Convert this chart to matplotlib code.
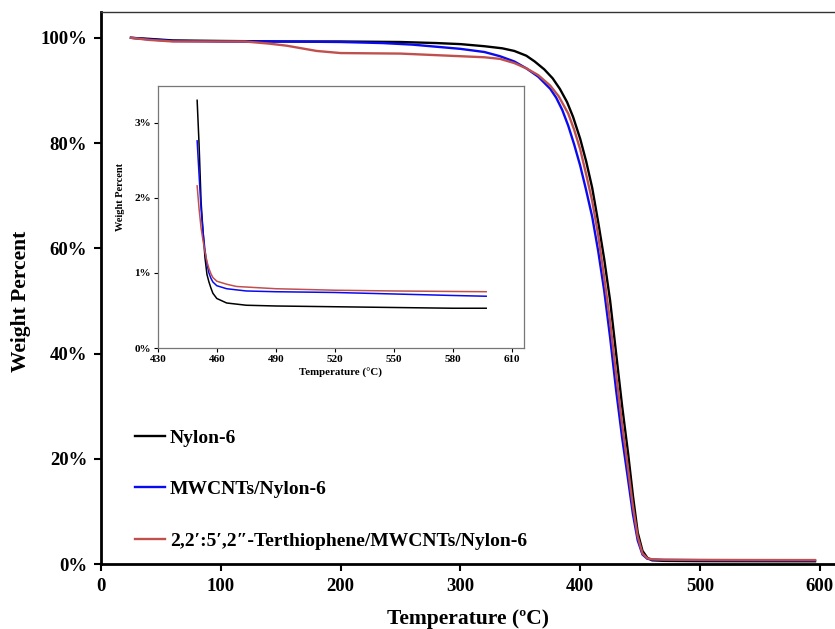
import numpy as np
import matplotlib
matplotlib.use('Agg')
import matplotlib.pyplot as plt
from matplotlib.ticker import FuncFormatter

plt.rcParams['font.family'] = ['Liberation Serif', 'DejaVu Serif']
plt.rcParams['font.weight'] = 'bold'

# TGA curves, main plot (temperature in C, weight in %)
t_nylon = [25, 40, 60, 100, 150, 200, 250, 280, 300, 320, 335, 345, 355, 362, 370, 377, 383, 389,
           394, 400, 405, 410, 415, 420, 425, 430, 435, 440, 444, 448, 452, 456, 460, 470, 500, 550, 596]
w_nylon = [100, 99.8, 99.5, 99.4, 99.3, 99.3, 99.2, 99.0, 98.8, 98.4, 98.0, 97.5, 96.6, 95.5, 94.0, 92.3, 90.3, 87.8,
           85.0, 80.8, 76.5, 71.5, 65.0, 58.0, 50.0, 40.0, 30.0, 21.0, 13.0, 6.0, 2.5, 1.2, 0.7, 0.6, 0.55, 0.53, 0.52]

t_mwcnt = [25, 40, 60, 100, 150, 200, 235, 260, 300, 320, 333, 345, 355, 365, 375, 380, 385, 390,
           395, 400, 405, 410, 415, 420, 425, 430, 435, 440, 444, 448, 452, 456, 460, 470, 500, 550, 596]
w_mwcnt = [100, 99.7, 99.4, 99.3, 99.3, 99.2, 99.0, 98.7, 97.9, 97.3, 96.5, 95.5, 94.2, 92.6, 90.3, 88.6, 86.3, 83.3,
           79.7, 75.7, 71.0, 66.0, 59.5, 52.0, 43.0, 33.0, 24.0, 16.0, 9.5, 4.5, 1.8, 1.0, 0.85, 0.78, 0.74, 0.72, 0.70]

t_terth = [25, 40, 60, 100, 120, 140, 155, 170, 180, 200, 250, 270, 300, 320, 333, 345, 355, 365, 375, 382,
           390, 395, 400, 405, 410, 415, 420, 425, 430, 435, 440, 444, 448, 452, 456, 460, 470, 500, 550, 596]
w_terth = [100, 99.6, 99.3, 99.3, 99.3, 98.9, 98.5, 97.9, 97.5, 97.1, 97.0, 96.8, 96.5, 96.3, 96.0, 95.2, 94.2, 92.9, 90.9, 88.9,
           85.6, 82.5, 78.8, 74.0, 69.0, 62.5, 54.5, 46.0, 36.0, 26.5, 18.0, 11.0, 5.2, 2.0, 1.1, 0.9, 0.82, 0.78, 0.76, 0.75]

# residue region, inset
it_nylon = [450, 451, 452, 453, 454, 455, 456, 457, 458, 460, 465, 475, 490, 520, 550, 580, 597]
iw_nylon = [3.30, 2.70, 1.95, 1.55, 1.20, 0.98, 0.88, 0.80, 0.73, 0.66, 0.60, 0.57, 0.56, 0.55, 0.54, 0.53, 0.53]
it_mwcnt = [450, 451, 452, 453, 454, 455, 456, 457, 458, 460, 465, 475, 490, 520, 550, 580, 597]
iw_mwcnt = [2.76, 2.30, 1.85, 1.55, 1.30, 1.12, 1.00, 0.93, 0.88, 0.83, 0.79, 0.76, 0.75, 0.74, 0.72, 0.70, 0.69]
it_terth = [450, 451, 452, 453, 454, 455, 456, 457, 458, 460, 465, 470, 490, 520, 550, 597]
iw_terth = [2.16, 1.85, 1.60, 1.43, 1.28, 1.15, 1.06, 0.99, 0.94, 0.89, 0.85, 0.82, 0.79, 0.77, 0.76, 0.75]

labels = ['Nylon-6', 'MWCNTs/Nylon-6', '2,2\u2032:5\u2032,2\u2033-Terthiophene/MWCNTs/Nylon-6']
colors = ['black', '#0A0AF0', '#C0504D']

fig = plt.figure(figsize=(8.35, 6.29), dpi=100)
ax = fig.add_axes([0.121, 0.1033, 0.879, 0.8776])

ax.plot(t_nylon, w_nylon, color=colors[0], lw=1.7, label=labels[0])
ax.plot(t_mwcnt, w_mwcnt, color=colors[1], lw=1.7, label=labels[1])
ax.plot(t_terth, w_terth, color=colors[2], lw=1.7, label=labels[2])

ax.set_xlim(0, 612.7)
ax.set_ylim(0, 104.9)
ax.set_xticks([0, 100, 200, 300, 400, 500, 600])
ax.set_yticks([0, 20, 40, 60, 80, 100])
ax.yaxis.set_major_formatter(FuncFormatter(lambda v, p: '%d%%' % v))
ax.tick_params(direction='out', length=5, width=1.5, labelsize=13.5, pad=5)
for s in ['left', 'bottom']:
    ax.spines[s].set_linewidth(2)
ax.spines['top'].set_linewidth(1)
ax.spines['top'].set_color('#333333')
ax.spines['right'].set_visible(False)
ax.set_xlabel('Temperature (\u00baC)', fontsize=15.5, fontweight='bold', labelpad=10)
ax.set_ylabel('Weight Percent', fontsize=15.5, fontweight='bold')
ax.yaxis.set_label_coords(-0.095, 0.476)

leg = ax.legend(loc='lower left', bbox_to_anchor=(0.046, 0.026), frameon=False, fontsize=14,
                labelspacing=1.74, handlelength=1.54, handletextpad=0.26,
                borderpad=0, borderaxespad=0)

# inset
ins = fig.add_axes([0.189, 0.4467, 0.438, 0.4165])
ins.plot(it_nylon, iw_nylon, color=colors[0], lw=1.1)
ins.plot(it_mwcnt, iw_mwcnt, color=colors[1], lw=1.1)
ins.plot(it_terth, iw_terth, color=colors[2], lw=1.1)
ins.set_xlim(430, 616)
ins.set_ylim(0, 3.49)
ins.set_xticks([430, 460, 490, 520, 550, 580, 610])
ins.set_yticks([0, 1, 2, 3])
ins.yaxis.set_major_formatter(FuncFormatter(lambda v, p: '%d%%' % v))
ins.tick_params(direction='out', length=3, width=0.8, labelsize=8, pad=2)
for s in ins.spines.values():
    s.set_linewidth(0.9)
    s.set_color('#777777')
ins.set_xlabel('Temperature (\u00b0C)', fontsize=7.8, fontweight='bold', labelpad=3)
ins.set_ylabel('Weight Percent', fontsize=7.5, fontweight='bold', labelpad=5)
ins.yaxis.set_label_coords(-0.09, 0.576)

fig.savefig('out.png', dpi=100)
